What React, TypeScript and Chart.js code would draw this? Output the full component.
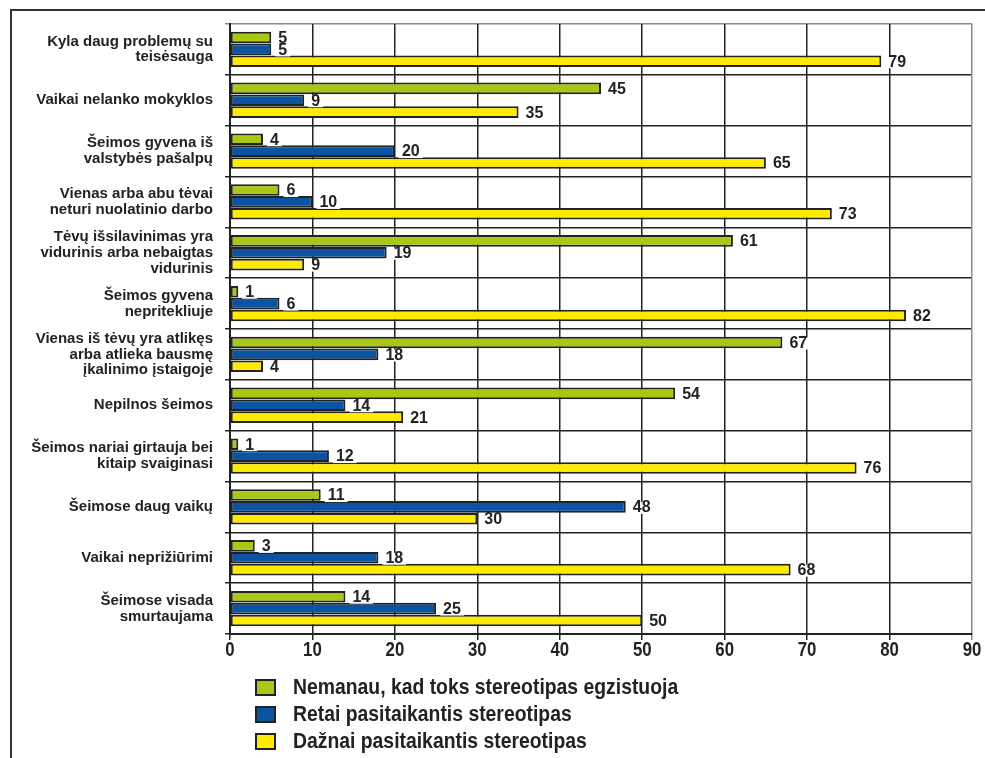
import React, { useEffect, useRef } from "react";
import { Chart, registerables } from "chart.js";

Chart.register(...registerables);

const categories: string[][] = [
  ["Kyla daug problemų su", "teisėsauga"],
  ["Vaikai nelanko mokyklos"],
  ["Šeimos gyvena iš", "valstybės pašalpų"],
  ["Vienas arba abu tėvai", "neturi nuolatinio darbo"],
  ["Tėvų išsilavinimas yra", "vidurinis arba nebaigtas", "vidurinis"],
  ["Šeimos gyvena", "nepritekliuje"],
  ["Vienas iš tėvų yra atlikęs", "arba atlieka bausmę", "įkalinimo įstaigoje"],
  ["Nepilnos šeimos"],
  ["Šeimos nariai girtauja bei", "kitaip svaiginasi"],
  ["Šeimose daug vaikų"],
  ["Vaikai neprižiūrimi"],
  ["Šeimose visada", "smurtaujama"],
];

const seriesNames = [
  "Nemanau, kad toks stereotipas egzistuoja",
  "Retai pasitaikantis stereotipas",
  "Dažnai pasitaikantis stereotipas",
];

const nemanau = [5, 45, 4, 6, 61, 1, 67, 54, 1, 11, 3, 14];
const retai = [5, 9, 20, 10, 19, 6, 18, 14, 12, 48, 18, 25];
const daznai = [79, 35, 65, 73, 9, 82, 4, 21, 76, 30, 68, 50];

const xTicks = [0, 10, 20, 30, 40, 50, 60, 70, 80, 90];

const colors = ["#A8C814", "#0A54A2", "#FFEB00"];
const DARK = "#222222";
const SANS = "'Liberation Sans', Arial, sans-serif";

const labelPlugin = {
  id: "valueLabels",
  afterDatasetsDraw(chart: any) {
    const ctx = chart.ctx;
    ctx.save();
    ctx.font = `bold 16px ${SANS}`;
    ctx.textBaseline = "middle";
    ctx.textAlign = "left";
    chart.data.datasets.forEach((ds: any, di: number) => {
      const meta = chart.getDatasetMeta(di);
      meta.data.forEach((bar: any, i: number) => {
        const txt = String(ds.data[i]);
        const w = ctx.measureText(txt).width;
        const x = bar.x + 7;
        const y = bar.y + 1;
        ctx.fillStyle = "#ffffff";
        ctx.fillRect(x - 3, y - 6, w + 6, 12);
        ctx.fillStyle = DARK;
        ctx.fillText(txt, x, y);
      });
    });
    ctx.restore();
  },
  afterDraw(chart: any) {
    const ctx = chart.ctx;
    const xs = chart.scales.x;
    ctx.save();
    ctx.font = `bold 21px ${SANS}`;
    ctx.textBaseline = "top";
    ctx.textAlign = "center";
    ctx.fillStyle = DARK;
    xTicks.forEach((v) => {
      const px = xs.getPixelForValue(v);
      ctx.save();
      ctx.translate(px, xs.top + 6);
      ctx.scale(0.8, 1);
      ctx.fillText(String(v), 0, 0);
      ctx.restore();
    });
    ctx.restore();
  },
};

export default function App() {
  const ref = useRef<HTMLCanvasElement | null>(null);

  useEffect(() => {
    if (!ref.current) return;
    const data = [nemanau, retai, daznai];
    const chart = new Chart(ref.current, {
      type: "bar",
      data: {
        labels: categories,
        datasets: data.map((d, i) => ({
          label: seriesNames[i],
          data: d,
          backgroundColor: colors[i],
          borderColor: DARK,
          borderWidth: 2,
          borderSkipped: false,
          categoryPercentage: 0.7,
          barPercentage: 0.98,
        })),
      },
      options: {
        indexAxis: "y",
        animation: false,
        responsive: true,
        maintainAspectRatio: false,
        layout: { padding: { left: 0, top: 24, right: 13, bottom: 94 } },
        plugins: {
          legend: { display: false },
          tooltip: { enabled: false },
        },
        scales: {
          y: {
            afterFit: (s: any) => {
              s.width = 230;
              s.paddingTop = 0;
              s.paddingBottom = 0;
            },
            grid: {
              offset: true,
              color: (c: any) => (c.index === 0 ? "#8a8a8a" : DARK),
              lineWidth: 1.5,
              tickLength: 5,
            },
            border: { display: true, color: DARK, width: 2 },
            ticks: {
              color: DARK,
              padding: 12,
              font: { family: SANS, size: 15, weight: "bold", lineHeight: 1.05 },
            },
          },
          x: {
            min: 0,
            max: 90,
            afterBuildTicks: (s: any) => {
              s.ticks = xTicks.map((v) => ({ value: v }));
            },
            afterFit: (s: any) => {
              s.height = 30;
            },
            grid: {
              color: (c: any) => (c.tick && c.tick.value === 90 ? "#8a8a8a" : DARK),
              lineWidth: 1.5,
              tickLength: 6,
            },
            border: { display: true, color: DARK, width: 2 },
            ticks: { display: false },
          },
        },
      },
      plugins: [labelPlugin],
    });
    return () => chart.destroy();
  }, []);

  const legendTops = [676, 703, 730];

  return (
    <div style={{ position: "absolute", left: 0, top: 0, width: 985, height: 758, background: "#fff", overflow: "hidden" }}>
      <div
        style={{
          position: "absolute",
          left: 10,
          top: 9,
          right: -5,
          bottom: -5,
          borderLeft: "2px solid #333",
          borderTop: "2px solid #333",
        }}
      />
      <div style={{ position: "absolute", left: 0, top: 0, width: 985, height: 758 }}>
        <canvas ref={ref} />
      </div>
      {seriesNames.map((name, i) => (
        <div
          key={name}
          style={{
            position: "absolute",
            left: 255,
            top: legendTops[i],
            height: 22,
            display: "flex",
            alignItems: "center",
            fontFamily: SANS,
            fontWeight: "bold",
            fontSize: 22,
            color: DARK,
            whiteSpace: "nowrap",
          }}
        >
          <span
            style={{
              display: "inline-block",
              width: 17,
              height: 13,
              background: colors[i],
              border: "2px solid #222",
              marginRight: 17,
            }}
          />
          <span style={{ display: "inline-block", transform: "scaleX(0.88)", transformOrigin: "left center" }}>{name}</span>
        </div>
      ))}
    </div>
  );
}
